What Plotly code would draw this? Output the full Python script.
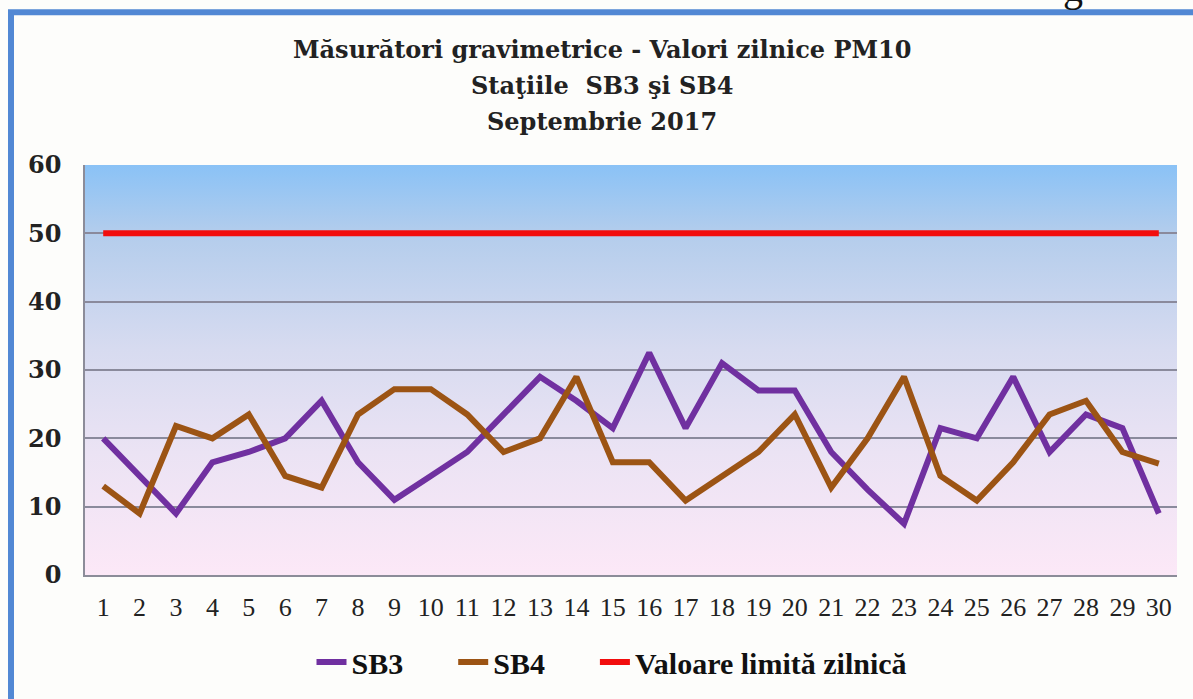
import plotly.graph_objects as go

# PM10 daily values, September 2017
days = list(range(1, 31))
sb3 = [20, 14.5, 9, 16.5, 18, 20, 25.5, 16.5, 11, 14.5,
       18, 23.5, 29, 25.5, 21.5, 32.5, 21.5, 31, 27, 27,
       18, 12.5, 7.5, 21.5, 20, 29, 18, 23.5, 21.5, 9]
sb4 = [13, 9, 21.8, 20, 23.5, 14.5, 12.8, 23.5, 27.2, 27.2,
       23.5, 18, 20, 29, 16.5, 16.5, 10.9, 14.5, 18, 23.5,
       12.8, 20, 29, 14.5, 10.9, 16.5, 23.5, 25.5, 18, 16.3]
limit = [50] * 30

title_lines = [
    "Măsurători gravimetrice - Valori zilnice PM10",
    "Staţiile  SB3 şi SB4",
    "Septembrie 2017",
]
title_y = [49, 85, 121]

W, H = 1193, 699
L, R, T, B = 85, 16, 165, 123

# vertical gradient for the plot background, as an inline svg
grad_svg = (
    "<svg xmlns='http://www.w3.org/2000/svg' width='100' height='100' preserveAspectRatio='none'>"
    "<defs><linearGradient id='g' x1='0' y1='0' x2='0' y2='1'>"
    "<stop offset='0' stop-color='#8ac2f6'/>"
    "<stop offset='0.17' stop-color='#b4cdec'/>"
    "<stop offset='0.45' stop-color='#d7dbf0'/>"
    "<stop offset='0.7' stop-color='#ebe3f4'/>"
    "<stop offset='1' stop-color='#fce8f7'/>"
    "</linearGradient></defs>"
    "<rect width='100' height='100' fill='url(#g)'/></svg>"
)
grad_src = "data:image/svg+xml;utf8," + grad_svg.replace("#", "%23")

serif = "Liberation Serif"
nb = "\u00a0"

fig = go.Figure()
fig.add_trace(go.Scatter(x=days, y=sb3, name="SB3" + nb * 6, mode="lines",
                         line=dict(color="#7030a0", width=6)))
fig.add_trace(go.Scatter(x=days, y=sb4, name="SB4" + nb * 6, mode="lines",
                         line=dict(color="#9c5414", width=6)))
fig.add_trace(go.Scatter(x=days, y=limit, name="Valoare limită zilnică", mode="lines",
                         line=dict(color="#f20d0d", width=6)))


def px_x(px):
    return (px - L) / (W - L - R)


def px_y(py):
    return (H - B - py) / (H - T - B)


annotations = [
    dict(text=t, xref="paper", yref="paper", x=px_x(602), y=px_y(yy),
         xanchor="center", yanchor="middle", showarrow=False,
         font=dict(family="DejaVu Serif", size=24, color="#222222", weight="bold"))
    for t, yy in zip(title_lines, title_y)
]
# cut-off text fragment above the frame (only its lower part is visible)
annotations.append(dict(text="g", xref="paper", yref="paper", x=px_x(1073), y=px_y(11),
                        xanchor="center", yanchor="bottom", showarrow=False, borderpad=0,
                        font=dict(family=serif, size=40, color="#111111")))

fig.update_layout(
    width=W, height=H,
    margin=dict(l=L, r=R, t=T, b=B),
    paper_bgcolor="#fdfdfb",
    plot_bgcolor="rgba(0,0,0,0)",
    showlegend=True,
    legend=dict(
        orientation="h", x=px_x(612), xanchor="center", y=px_y(662), yanchor="middle",
        font=dict(family=serif, size=30, color="#111111", weight="bold"),
        bgcolor="rgba(0,0,0,0)", tracegroupgap=0,
    ),
    xaxis=dict(
        range=[0.5, 30.5], tickvals=days, ticktext=[str(d) for d in days],
        showgrid=False, showline=True, linecolor="#8c8c99", linewidth=1.5,
        ticks="", ticklabelstandoff=8,
        tickfont=dict(family=serif, size=26, color="#222222"),
        zeroline=False,
    ),
    yaxis=dict(
        range=[0, 60], dtick=10, showgrid=True, gridcolor="#8a8a9c", gridwidth=1.5,
        showline=True, linecolor="#8c8c99", linewidth=1.5,
        ticks="", ticklabelstandoff=17,
        tickfont=dict(family="DejaVu Serif", size=24, color="#222222", weight="bold"),
        zeroline=False,
    ),
    images=[dict(source=grad_src, xref="paper", yref="paper", x=0, y=1,
                 sizex=1, sizey=1, sizing="stretch", layer="below")],
    shapes=[dict(type="rect", xref="paper", yref="paper",
                 x0=px_x(11), x1=px_x(1230), y0=px_y(730), y1=px_y(12),
                 line=dict(color="#5288d4", width=6), layer="below")],
    annotations=annotations,
)

fig.write_html("out.html", config=dict(displayModeBar=False),
               post_script="document.body.style.margin = '0';")
